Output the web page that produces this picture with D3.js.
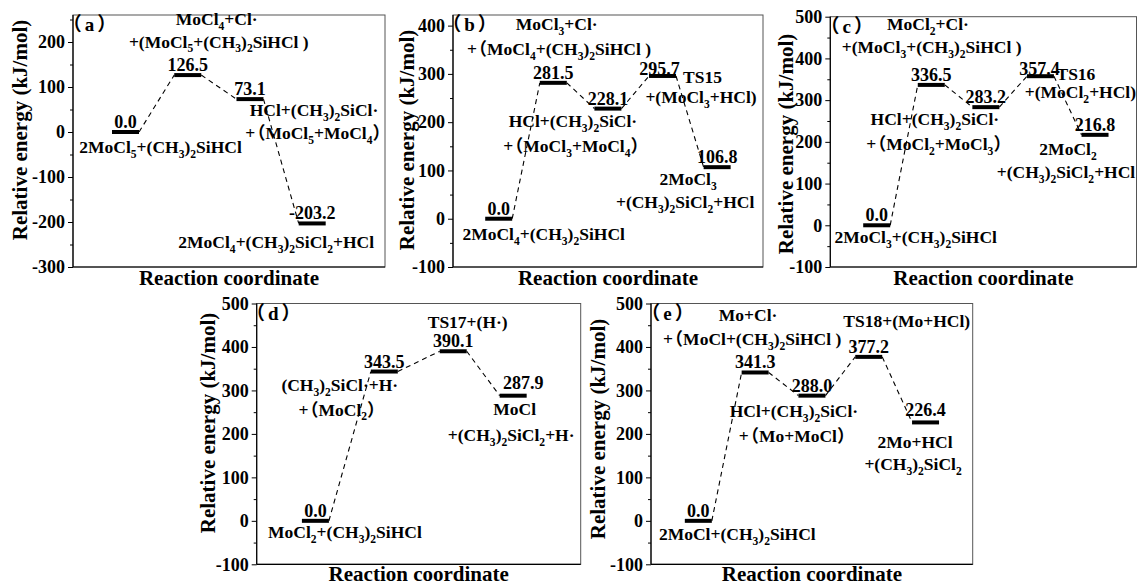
<!DOCTYPE html>
<html><head><meta charset="utf-8">
<script src="https://cdn.jsdelivr.net/npm/d3@7"></script>
<style>
body{margin:0;background:#fff}
svg text{font-family:"Liberation Serif","Times New Roman","Noto Sans CJK SC",serif;font-weight:bold;fill:#000}
</style></head><body>
<svg id="chart" width="1137" height="587"></svg>
<script>
// ---------------- data ----------------
const panelIds = ["a", "b", "c", "d", "e"];

const coordA = [1, 2, 3, 4];
const energyA = [0.0, 126.5, 73.1, -203.2];
const coordB = [1, 2, 3, 4, 5];
const energyB = [0.0, 281.5, 228.1, 295.7, 106.8];
const coordC = [1, 2, 3, 4, 5];
const energyC = [0.0, 336.5, 283.2, 357.4, 216.8];
const coordD = [1, 2, 3, 3.87];
const energyD = [0.0, 343.5, 390.1, 287.9];
const coordE = [1, 2, 3, 4, 5];
const energyE = [0.0, 341.3, 288.0, 377.2, 226.4];

const speciesA = ["MoCl_4+Cl·", "+(MoCl_5+(CH_3)_2SiHCl )", "2MoCl_5+(CH_3)_2SiHCl",
  "HCl+(CH_3)_2SiCl·", "+（MoCl_5+MoCl_4）", "2MoCl_4+(CH_3)_2SiCl_2+HCl"];
const speciesB = ["MoCl_3+Cl·", "+（MoCl_4+(CH_3)_2SiHCl )", "HCl+(CH_3)_2SiCl·", "+（MoCl_3+MoCl_4）",
  "TS15", "+(MoCl_3+HCl)", "2MoCl_3", "+(CH_3)_2SiCl_2+HCl", "2MoCl_4+(CH_3)_2SiHCl"];
const speciesC = ["MoCl_2+Cl·", "+(MoCl_3+(CH_3)_2SiHCl )", "HCl+(CH_3)_2SiCl·", "+（MoCl_2+MoCl_3）",
  "TS16", "+(MoCl_2+HCl)", "2MoCl_2", "+(CH_3)_2SiCl_2+HCl", "2MoCl_3+(CH_3)_2SiHCl"];
const speciesD = ["TS17+(H·)", "(CH_3)_2SiCl·+H·", "+（MoCl_2）", "MoCl", "+(CH_3)_2SiCl_2+H·",
  "MoCl_2+(CH_3)_2SiHCl"];
const speciesE = ["Mo+Cl·", "+（MoCl+(CH_3)_2SiHCl )", "TS18+(Mo+HCl)", "HCl+(CH_3)_2SiCl·",
  "+（Mo+MoCl）", "2Mo+HCl", "+(CH_3)_2SiCl_2", "2MoCl+(CH_3)_2SiHCl"];

const yTicksA = [-300, -200, -100, 0, 100, 200];
const yMinorA = [-250, -150, -50, 50, 150, 250];
const yTicksB = [-100, 0, 100, 200, 300, 400];
const yMinorB = [-50, 50, 150, 250, 350];
const yTicksCDE = [-100, 0, 100, 200, 300, 400, 500];
const yMinorCDE = [-50, 50, 150, 250, 350, 450];

const xTitle = "Reaction coordinate";
const yTitle = "Relative energy (kJ/mol)";

// ---------------- layout (positions / styles) ----------------
const layout = {
  a: {left: 73, right: 385, top: 15, bottom: 267, xDom: [0.156, 5.17], yDom: [-300, 260],
      yTitlePos: [20, 130], xTitleY: 285,
      speciesPos: [[1, 29, -50], [1, 31, -27.5], [0, 35, 21], [2, 64, 17], [2, 64, 40], [3, -36, 25]],
      valueOff: {}},
  b: {left: 453, right: 763, top: 15, bottom: 267, xDom: [0.163, 5.84], yDom: [-100, 422],
      yTitlePos: [407, 140], xTitleY: 285,
      speciesPos: [[1, 3.4, -53], [1, 5.7, -28], [2, -35, 18], [2, -36, 43], [3, 40, 7], [3, 38.5, 27],
                   [4, -29, 18], [4, -32, 41], [0, 45, 21]],
      valueOff: {3: [-3, -0.5]}},
  c: {left: 830.3, right: 1136.5, top: 16.7, bottom: 267, xDom: [0.15, 5.76], yDom: [-100, 500],
      yTitlePos: [786, 144], xTitleY: 285,
      speciesPos: [[1, -3.3, -55], [1, 0.4, -32], [2, -51, 17.7], [2, -51, 42.7], [3, 35.5, 3.7],
                   [3, 40, 21.7], [4, -27, 20], [4, -29, 43], [0, 39, 18]],
      valueOff: {3: [-1, -1.5]}},
  d: {left: 256.7, right: 580.7, top: 303.5, bottom: 564.3, xDom: [0.148, 4.85], yDom: [-100, 500],
      yTitlePos: [208, 423], xTitleY: 581,
      speciesPos: [[2, 14.5, -23], [1, -44.5, 19.5], [1, -46.5, 44], [3, 1.5, 19.4], [3, -2, 45.4],
                   [0, 29.5, 17.5]],
      valueOff: {3: [10, -7]}},
  e: {left: 651, right: 972.7, top: 303.5, bottom: 564.3, xDom: [0.167, 5.83], yDom: [-100, 500],
      yTitlePos: [598, 429], xTitleY: 581,
      speciesPos: [[1, -7, -51], [1, -3, -27.5], [3, 38, -30], [2, -18, 21], [2, -19, 46], [4, -10.5, 25.6],
                   [4, -12.5, 47.3], [0, 39, 19]],
      valueOff: {4: [0, -6]}}
};

const panelData = {
  a: {coord: coordA, energy: energyA, species: speciesA, ticks: yTicksA, minor: yMinorA},
  b: {coord: coordB, energy: energyB, species: speciesB, ticks: yTicksB, minor: yMinorB},
  c: {coord: coordC, energy: energyC, species: speciesC, ticks: yTicksCDE, minor: yMinorCDE},
  d: {coord: coordD, energy: energyD, species: speciesD, ticks: yTicksCDE, minor: yMinorCDE},
  e: {coord: coordE, energy: energyE, species: speciesE, ticks: yTicksCDE, minor: yMinorCDE}
};

const BAR_W = 27, SPECIES_FS = 17.5, VALUE_FS = 18, TICK_FS = 18, TITLE_FS = 21, LETTER_FS = 19;
const FONT = '"Liberation Serif","Times New Roman","Noto Sans CJK SC",serif';

const svg = d3.select("#chart");
svg.append("rect").attr("width", 1137).attr("height", 587).attr("fill", "#fff");

// text with _N subscripts; full-width parentheses tightened via letter-spacing
function rich(sel, str, fs) {
  sel.attr("font-size", fs);
  const parts = str.split(/(_\d+|（|）)/).filter(p => p.length);
  const tight = -fs * 0.42;
  let down = false;
  const add = (txt, sub, ls) => {
    const t = sel.append("tspan").text(txt);
    if (sub) {
      t.attr("font-size", fs * 0.66);
      if (!down) t.attr("dy", fs * 0.28);
      down = true;
    } else {
      if (down) t.attr("dy", -fs * 0.28);
      down = false;
    }
    if (ls) t.style("letter-spacing", ls + "px");
  };
  parts.forEach((p, k) => {
    const sub = p[0] === "_";
    const txt = sub ? p.slice(1) : p;
    const nextOpen = parts[k + 1] === "（";
    if (p === "）") add(p, false, tight);
    else if (nextOpen) {
      if (txt.length > 1) add(txt.slice(0, -1), sub, 0);
      add(txt.slice(-1), sub, tight);
    } else add(txt, sub, 0);
  });
}

panelIds.forEach(id => {
  const L = layout[id], D = panelData[id];
  const x = d3.scaleLinear().domain(L.xDom).range([L.left, L.right]);
  const y = d3.scaleLinear().domain(L.yDom).range([L.bottom, L.top]);
  const g = svg.append("g");

  // frame
  g.append("rect").attr("x", L.left).attr("y", L.top)
    .attr("width", L.right - L.left).attr("height", L.bottom - L.top)
    .attr("fill", "none").attr("stroke", "#555").attr("stroke-width", 1);

  // y axis
  const ax = g.append("g").attr("transform", `translate(${L.left},0)`)
    .call(d3.axisLeft(y).tickValues(D.ticks).tickSize(5).tickSizeOuter(0).tickPadding(3).tickFormat(d => String(d)));
  ax.attr("font-family", null).attr("font-size", null);
  ax.select(".domain").remove();
  ax.selectAll("line").attr("stroke", "#000");
  ax.selectAll("text").attr("font-size", TICK_FS).style("font-family", FONT).style("font-weight", "bold");
  const axm = g.append("g").attr("transform", `translate(${L.left},0)`)
    .call(d3.axisLeft(y).tickValues(D.minor.filter(v => v >= L.yDom[0] && v <= L.yDom[1])).tickSize(3).tickSizeOuter(0).tickFormat(""));
  axm.select(".domain").remove();
  axm.selectAll("line").attr("stroke", "#000");

  g.append("line").attr("x1", L.left).attr("x2", L.left).attr("y1", L.top).attr("y2", L.bottom)
    .attr("stroke", "#000").attr("stroke-width", 1.2);
  g.append("line").attr("x1", L.left).attr("x2", L.right).attr("y1", L.bottom).attr("y2", L.bottom)
    .attr("stroke", "#000").attr("stroke-width", 1.2);

  // titles
  g.append("text").attr("x", (L.left + L.right) / 2).attr("y", L.xTitleY)
    .attr("text-anchor", "middle").attr("font-size", TITLE_FS).text(xTitle);
  g.append("text").attr("transform", `translate(${L.yTitlePos[0]},${L.yTitlePos[1]}) rotate(-90)`)
    .attr("text-anchor", "middle").attr("dominant-baseline", "central").attr("font-size", TITLE_FS).text(yTitle);

  // panel letter
  g.append("text").attr("x", L.left + 18).attr("y", L.top + 16)
    .attr("text-anchor", "middle").attr("font-size", LETTER_FS).attr("letter-spacing", 3)
    .text("（" + id + "）");

  const pts = D.coord.map((c, i) => ({c, e: D.energy[i], i}));

  // dashed connectors
  for (let i = 0; i < pts.length - 1; i++) {
    g.append("line")
      .attr("x1", x(pts[i].c) + BAR_W / 2).attr("y1", y(pts[i].e))
      .attr("x2", x(pts[i + 1].c) - BAR_W / 2).attr("y2", y(pts[i + 1].e))
      .attr("stroke", "#000").attr("stroke-width", 1.1).attr("stroke-dasharray", "5,4");
  }

  // level bars
  g.selectAll(".lvl").data(pts).join("line")
    .attr("x1", d => x(d.c) - BAR_W / 2).attr("x2", d => x(d.c) + BAR_W / 2)
    .attr("y1", d => y(d.e)).attr("y2", d => y(d.e))
    .attr("stroke", "#000").attr("stroke-width", 4);

  // value labels
  g.selectAll(".val").data(pts).join("text")
    .attr("x", d => x(d.c) + (L.valueOff[d.i] ? L.valueOff[d.i][0] : 0))
    .attr("y", d => y(d.e) + (L.valueOff[d.i] ? L.valueOff[d.i][1] : -4))
    .attr("text-anchor", "middle").attr("font-size", VALUE_FS)
    .text(d => d3.format(".1f")(d.e).replace("−", "-"));

  // species labels
  D.species.forEach((s, k) => {
    const [bi, dx, dy] = L.speciesPos[k];
    const t = g.append("text").attr("x", x(D.coord[bi]) + dx).attr("y", y(D.energy[bi]) + dy)
      .attr("text-anchor", "middle");
    rich(t, s, SPECIES_FS);
  });
});
</script>
</body></html>
